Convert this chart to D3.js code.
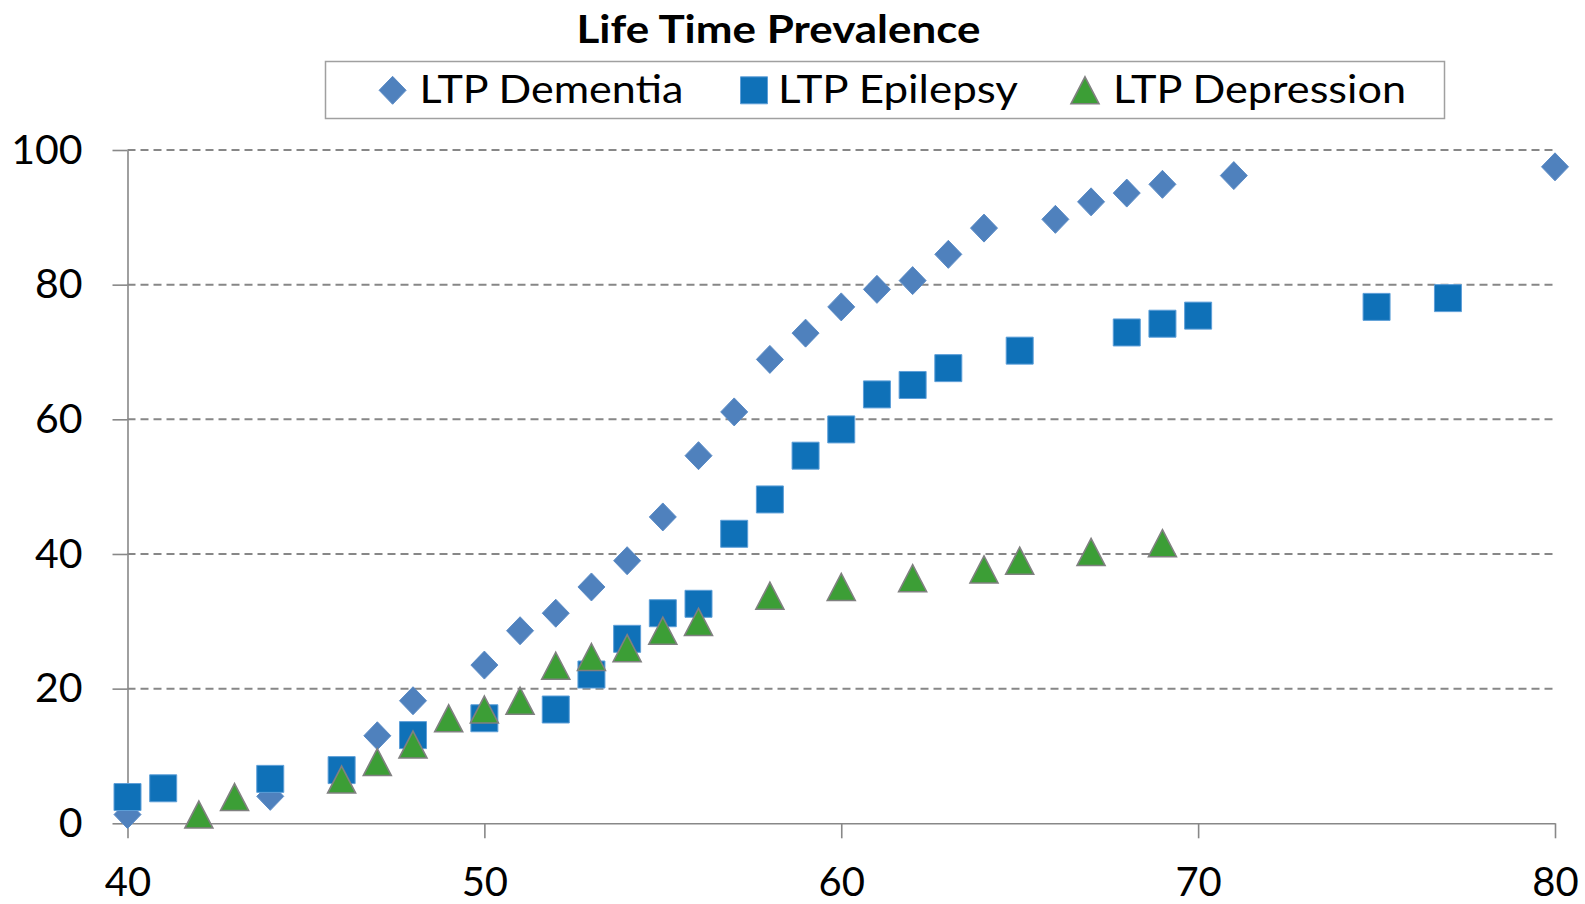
<!DOCTYPE html>
<html>
<head>
<meta charset="utf-8">
<script src="https://cdn.jsdelivr.net/npm/d3@7/dist/d3.min.js"></script>
<style>
  html, body { margin: 0; padding: 0; background: #fff; }
  svg { display: block; }
  text { font-family: Lato, "Open Sans", "Liberation Sans", sans-serif; fill: #000; }
</style>
</head>
<body>
<svg id="chart" width="1585" height="904"></svg>
<script>
// Life time prevalence by age, three series
const dementiaAge   = [40, 44, 47, 48, 50, 51, 52, 53, 54, 55, 56, 57, 58, 59, 60, 61, 62, 63, 64, 66, 67, 68, 69, 71, 80];
const dementiaValue = [1.3, 4.0, 13.0, 18.2, 23.5, 28.6, 31.2, 35.1, 39.0, 45.5, 54.6, 61.1, 68.9, 72.8, 76.7, 79.3, 80.6, 84.5, 88.4, 89.7, 92.3, 93.6, 94.9, 96.2, 97.5];

const epilepsyAge   = [40, 41, 44, 46, 48, 50, 52, 53, 54, 55, 56, 57, 58, 59, 60, 61, 62, 63, 65, 68, 69, 70, 75, 77];
const epilepsyValue = [3.9, 5.2, 6.6, 7.9, 13.1, 15.6, 16.9, 22.1, 27.4, 31.2, 32.6, 43.0, 48.1, 54.6, 58.5, 63.7, 65.1, 67.6, 70.2, 72.9, 74.2, 75.4, 76.7, 78.0];

const depressionAge   = [42, 43, 46, 47, 48, 49, 50, 51, 52, 53, 54, 55, 56, 58, 60, 62, 64, 65, 67, 69];
const depressionValue = [1.3, 3.9, 6.5, 9.1, 11.7, 15.6, 16.9, 18.2, 23.4, 24.7, 26.0, 28.6, 29.9, 33.8, 35.1, 36.4, 37.7, 39.0, 40.3, 41.6];

const seriesNames = ["LTP Dementia", "LTP Epilepsy", "LTP Depression"];
const xTicks = [40, 50, 60, 70, 80];
const yTicks = [0, 20, 40, 60, 80, 100];
const chartTitle = "Life Time Prevalence";

const svg = d3.select("#chart");

const x = d3.scaleLinear().domain([40, 80]).range([127.5, 1555]);
const y = d3.scaleLinear().domain([0, 100]).range([823.3, 150]);

const gridColor = "#878787";
const axisColor = "#888888";
const tickFont = "Lato, 'Open Sans', sans-serif";

// marker shapes, centred on (0,0)
const shapes = {
  diamond: "M0,-14L13.5,0L0,14L-13.5,0Z",
  square: "M-13.5,-13.5H13.5V13.5H-13.5Z",
  triangle: "M0,-13.5L14,13.5L-14,13.5Z"
};
const styles = [
  { shape: "diamond",  fill: "#4F81BD", stroke: "#5A8BC6", sw: 1 },
  { shape: "square",   fill: "#0F71B8", stroke: "#5E9FD8", sw: 1 },
  { shape: "triangle", fill: "#3C9E36", stroke: "#808080", sw: 1.6 }
];

// dashed horizontal gridlines
svg.append("g").selectAll("line")
  .data(yTicks.filter(v => v > 0))
  .join("line")
  .attr("x1", x(40)).attr("x2", x(80))
  .attr("y1", d => y(d)).attr("y2", d => y(d))
  .attr("stroke", gridColor)
  .attr("stroke-width", 2)
  .attr("stroke-dasharray", "8,5");

// y axis
const yAxis = svg.append("g")
  .attr("transform", `translate(${x(40)},0)`)
  .call(d3.axisLeft(y).tickValues(yTicks).tickSize(15).tickPadding(30).tickSizeOuter(0));
yAxis.select(".domain").attr("stroke", axisColor).attr("stroke-width", 1.6);
yAxis.selectAll(".tick line").attr("stroke", axisColor).attr("stroke-width", 1.6);
yAxis.selectAll(".tick text").attr("font-size", 41);

// x axis
const xAxis = svg.append("g")
  .attr("transform", `translate(0,${y(0)})`)
  .call(d3.axisBottom(x).tickValues(xTicks).tickSize(15).tickPadding(29).tickSizeOuter(0));
xAxis.select(".domain").attr("stroke", axisColor).attr("stroke-width", 1.6);
xAxis.selectAll(".tick line").attr("stroke", axisColor).attr("stroke-width", 1.6);
xAxis.selectAll(".tick text").attr("font-size", 40);

svg.selectAll(".tick text")
  .attr("font-family", null)
  .attr("fill", "#000")
  .style("font-family", tickFont);

// data points, drawn series by series
const allSeries = [
  dementiaAge.map((a, i) => [a, dementiaValue[i]]),
  epilepsyAge.map((a, i) => [a, epilepsyValue[i]]),
  depressionAge.map((a, i) => [a, depressionValue[i]])
];
allSeries.forEach((pts, s) => {
  const st = styles[s];
  svg.append("g").selectAll("path")
    .data(pts)
    .join("path")
    .attr("d", shapes[st.shape])
    .attr("transform", d => `translate(${x(d[0])},${y(d[1])})`)
    .attr("fill", st.fill)
    .attr("stroke", st.stroke)
    .attr("stroke-width", st.sw)
    .attr("stroke-linejoin", "miter");
});

// fit a text element to a given width
function fitWidth(sel, w) {
  sel.attr("textLength", w).attr("lengthAdjust", "spacingAndGlyphs");
}

// title
svg.append("text")
  .attr("x", 576.5).attr("y", 42.7)
  .attr("font-size", 39).attr("font-weight", "bold")
  .text(chartTitle)
  .call(fitWidth, 404);

// legend
svg.append("rect")
  .attr("x", 325.5).attr("y", 61.5).attr("width", 1119).attr("height", 57)
  .attr("fill", "#fff").attr("stroke", "#A0A0A0").attr("stroke-width", 1.5);

const legendItems = [
  { mx: 392.6, tx: 419.4, w: 264 },
  { mx: 754,   tx: 778,   w: 240 },
  { mx: 1085,  tx: 1113,  w: 293 }
];
legendItems.forEach((it, i) => {
  const st = styles[i];
  svg.append("path")
    .attr("d", shapes[st.shape])
    .attr("transform", `translate(${it.mx},90.3)`)
    .attr("fill", st.fill).attr("stroke", st.stroke).attr("stroke-width", st.sw);
  svg.append("text")
    .attr("x", it.tx).attr("y", 103.3)
    .attr("font-size", 38)
    .text(seriesNames[i])
    .call(fitWidth, it.w);
});
</script>
</body>
</html>
